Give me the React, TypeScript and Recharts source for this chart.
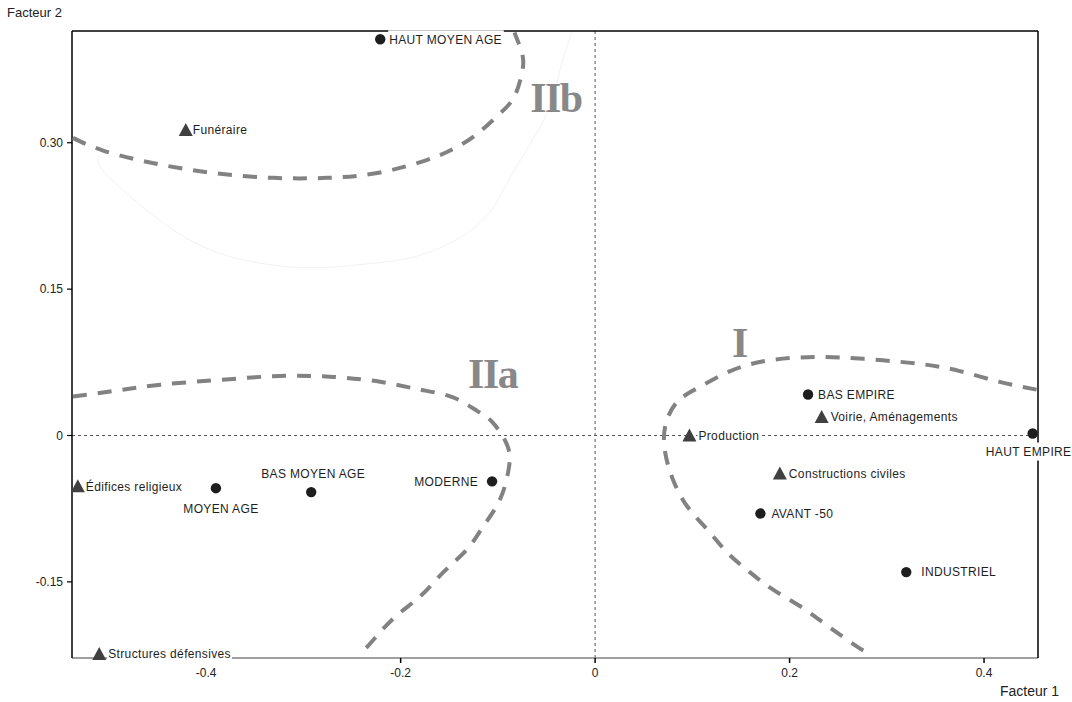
import { ScatterChart, Scatter, XAxis, YAxis, ReferenceLine, ReferenceDot } from "recharts";

// periods (circles)
const periodNames = [
  "HAUT MOYEN AGE",
  "BAS EMPIRE",
  "HAUT EMPIRE",
  "AVANT -50",
  "INDUSTRIEL",
  "MODERNE",
  "BAS MOYEN AGE",
  "MOYEN AGE",
];
const periodF1 = [-0.221, 0.219, 0.45, 0.17, 0.32, -0.106, -0.292, -0.39];
const periodF2 = [0.406, 0.042, 0.002, -0.08, -0.14, -0.047, -0.058, -0.054];

// site types (triangles)
const typeNames = [
  "Funéraire",
  "Voirie, Aménagements",
  "Production",
  "Constructions civiles",
  "Édifices religieux",
  "Structures défensives",
];
const typeF1 = [-0.421, 0.233, 0.097, 0.19, -0.532, -0.51];
const typeF2 = [0.313, 0.019, 0, -0.039, -0.052, -0.224];

const xDomain = [-0.538, 0.4555];
const yDomain = [-0.228, 0.4145];
const xTicks = [-0.4, -0.2, 0, 0.2, 0.4];
const xTickLabels = ["-0.4", "-0.2", "0", "0.2", "0.4"];
const yTicks = [-0.15, 0, 0.15, 0.3];
const yTickLabels = ["-0.15", "0", "0.15", "0.30"];

// hand drawn group outlines
const curveIIbF1 = [-0.537, -0.506, -0.454, -0.393, -0.331, -0.276, -0.224, -0.174, -0.147, -0.124, -0.101, -0.085, -0.077, -0.074, -0.079, -0.083];
const curveIIbF2 = [0.305, 0.292, 0.279, 0.269, 0.264, 0.264, 0.269, 0.282, 0.293, 0.307, 0.327, 0.344, 0.364, 0.385, 0.403, 0.413];

const curveIIaF1 = [-0.537, -0.499, -0.447, -0.386, -0.324, -0.269, -0.221, -0.18, -0.146, -0.121, -0.105, -0.09, -0.089, -0.098, -0.115, -0.132, -0.156, -0.18, -0.208, -0.234, -0.242];
const curveIIaF2 = [0.04, 0.045, 0.052, 0.057, 0.061, 0.06, 0.055, 0.047, 0.039, 0.025, 0.013, -0.011, -0.035, -0.066, -0.093, -0.117, -0.14, -0.165, -0.188, -0.216, -0.222];

const curveIF1 = [0.454, 0.416, 0.375, 0.337, 0.296, 0.252, 0.211, 0.173, 0.139, 0.108, 0.084, 0.072, 0.072, 0.08, 0.095, 0.115, 0.136, 0.159, 0.183, 0.211, 0.239, 0.269, 0.281];
const curveIF2 = [0.047, 0.055, 0.066, 0.073, 0.077, 0.08, 0.08, 0.076, 0.066, 0.05, 0.034, 0.009, -0.017, -0.045, -0.073, -0.096, -0.12, -0.14, -0.158, -0.175, -0.195, -0.216, -0.223];

// very light arc behind IIb
const faintF1 = [-0.511, -0.499, -0.43, -0.362, -0.293, -0.224, -0.173, -0.118, -0.087, -0.051, -0.036, -0.024];
const faintF2 = [0.285, 0.264, 0.208, 0.18, 0.172, 0.177, 0.187, 0.218, 0.265, 0.327, 0.375, 0.413];

const regionNames = ["IIb", "IIa", "I"];
const regionF1 = [-0.0668, -0.1306, 0.1409];
const regionF2 = [0.3316, 0.0491, 0.0809];

const toPoints = (xs: number[], ys: number[], names?: string[]) =>
  xs.map((x, i) => ({ x, y: ys[i], name: names ? names[i] : "" }));

const periods = toPoints(periodF1, periodF2, periodNames);
const types = toPoints(typeF1, typeF2, typeNames);
const curveIIb = toPoints(curveIIbF1, curveIIbF2);
const curveIIa = toPoints(curveIIaF1, curveIIaF2);
const curveI = toPoints(curveIF1, curveIF2);
const faint = toPoints(faintF1, faintF2);

const FONT_FAMILY = "'Liberation Sans', Arial, sans-serif";
const LABEL_SIZE = 12;
const LABEL_SPACING = 0.35;

const placement: Record<string, { side: string; gap: number; dx?: number }> = {
  "HAUT MOYEN AGE": { side: "right", gap: 9 },
  "BAS EMPIRE": { side: "right", gap: 10 },
  "HAUT EMPIRE": { side: "bottom", gap: 18, dx: -4 },
  "AVANT -50": { side: "right", gap: 11 },
  INDUSTRIEL: { side: "right", gap: 15 },
  MODERNE: { side: "left", gap: 14 },
  "BAS MOYEN AGE": { side: "top", gap: 18, dx: 2 },
  "MOYEN AGE": { side: "bottom", gap: 20, dx: 5 },
  "Funéraire": { side: "right", gap: 7 },
  "Voirie, Aménagements": { side: "right", gap: 9 },
  Production: { side: "right", gap: 9 },
  "Constructions civiles": { side: "right", gap: 9 },
  "Édifices religieux": { side: "right", gap: 8 },
  "Structures défensives": { side: "right", gap: 9 },
};

const ctx = document.createElement("canvas").getContext("2d");
const textWidth = (t: string) => {
  if (!ctx) return t.length * 7;
  ctx.font = `${LABEL_SIZE}px ${FONT_FAMILY}`;
  return ctx.measureText(t).width + t.length * LABEL_SPACING;
};

const makeMarker = (kind: "circle" | "triangle") => (props: any) => {
  const { cx, cy, payload } = props;
  const name: string = payload.name;
  const pl = placement[name] ?? { side: "right", gap: 9 };
  const w = textWidth(name);
  let tx = cx + pl.gap;
  let ty = cy;
  let anchor: "start" | "end" | "middle" = "start";
  let rx = tx - 1;
  if (pl.side === "left") {
    tx = cx - pl.gap;
    anchor = "end";
    rx = tx - w - 1;
  } else if (pl.side === "top" || pl.side === "bottom") {
    tx = cx + (pl.dx ?? 0);
    ty = pl.side === "top" ? cy - pl.gap : cy + pl.gap;
    anchor = "middle";
    rx = tx - w / 2 - 1;
  }
  return (
    <g>
      <rect x={rx} y={ty - 9} width={w + 2} height={18} fill="#fff" />
      {kind === "circle" ? (
        <circle cx={cx} cy={cy} r={5.2} fill="#1e1e1e" />
      ) : (
        <polygon
          points={`${cx},${cy - 7} ${cx - 7},${cy + 6} ${cx + 7},${cy + 6}`}
          fill="#404040"
        />
      )}
      <text
        x={tx}
        y={ty}
        dy="0.36em"
        textAnchor={anchor}
        fontFamily={FONT_FAMILY}
        fontSize={LABEL_SIZE}
        letterSpacing={LABEL_SPACING}
        fill="#1e1e1e"
      >
        {name}
      </text>
    </g>
  );
};

const noShape = () => <g />;

const dashed = { stroke: "#828282", strokeWidth: 4, strokeDasharray: "14 11", fill: "none" };
const tickStyle = { fill: "#222", fontSize: 12, fontFamily: FONT_FAMILY };

export default function App() {
  return (
    <div
      style={{
        position: "absolute",
        left: 0,
        top: 0,
        width: 1072,
        height: 702,
        background: "#fff",
        fontFamily: FONT_FAMILY,
      }}
    >
      <div style={{ position: "absolute", left: 7, top: 5, fontSize: 13, color: "#222" }}>Facteur 2</div>
      <div style={{ position: "absolute", left: 1000, top: 683, fontSize: 14, color: "#222" }}>Facteur 1</div>
      <ScatterChart width={1072} height={702} margin={{ top: 30, right: 33, bottom: 0, left: 0 }}>
        <XAxis
          type="number"
          dataKey="x"
          domain={xDomain}
          ticks={xTicks}
          tickFormatter={(v: number) => xTickLabels[xTicks.indexOf(v)] ?? String(v)}
          height={44}
          tickSize={5}
          tickMargin={5}
          axisLine={{ stroke: "#808080", strokeWidth: 1.5 }}
          tickLine={{ stroke: "#000", strokeWidth: 1.5 }}
          tick={tickStyle}
        />
        <XAxis
          xAxisId="top"
          orientation="top"
          type="number"
          domain={xDomain}
          height={1}
          tick={false}
          tickLine={false}
          axisLine={{ stroke: "#000", strokeWidth: 1.5 }}
        />
        <YAxis
          type="number"
          dataKey="y"
          domain={yDomain}
          ticks={yTicks}
          tickFormatter={(v: number) => yTickLabels[yTicks.indexOf(v)] ?? String(v)}
          width={72}
          tickSize={5}
          tickMargin={4}
          axisLine={{ stroke: "#000", strokeWidth: 1.5 }}
          tickLine={{ stroke: "#000", strokeWidth: 1.2 }}
          tick={tickStyle}
        />
        <YAxis
          yAxisId="right"
          orientation="right"
          type="number"
          domain={yDomain}
          width={1}
          tick={false}
          tickLine={false}
          axisLine={{ stroke: "#000", strokeWidth: 1.5 }}
        />
        <ReferenceLine x={0} stroke="#555" strokeDasharray="3 3" />
        <ReferenceLine y={0} stroke="#555" strokeDasharray="3 3" />
        <Scatter data={faint} line={{ stroke: "#f2f2f2", strokeWidth: 1 }} lineJointType="natural" shape={noShape} isAnimationActive={false} />
        <Scatter data={curveIIb} line={dashed} lineJointType="natural" shape={noShape} isAnimationActive={false} />
        <Scatter data={curveIIa} line={dashed} lineJointType="natural" shape={noShape} isAnimationActive={false} />
        <Scatter data={curveI} line={dashed} lineJointType="natural" shape={noShape} isAnimationActive={false} />
        {regionNames.map((r, i) => (
          <ReferenceDot
            key={r}
            x={regionF1[i]}
            y={regionF2[i]}
            r={0}
            shape={(p: any) => (
              <text
                x={p.cx}
                y={p.cy}
                fontFamily="'Liberation Serif', 'Times New Roman', serif"
                fontWeight="bold"
                fontSize={42}
                letterSpacing={-1.5}
                fill="#888"
              >
                {r}
              </text>
            )}
          />
        ))}
        <Scatter data={types} shape={makeMarker("triangle")} isAnimationActive={false} />
        <Scatter data={periods} shape={makeMarker("circle")} isAnimationActive={false} />
      </ScatterChart>
    </div>
  );
}
